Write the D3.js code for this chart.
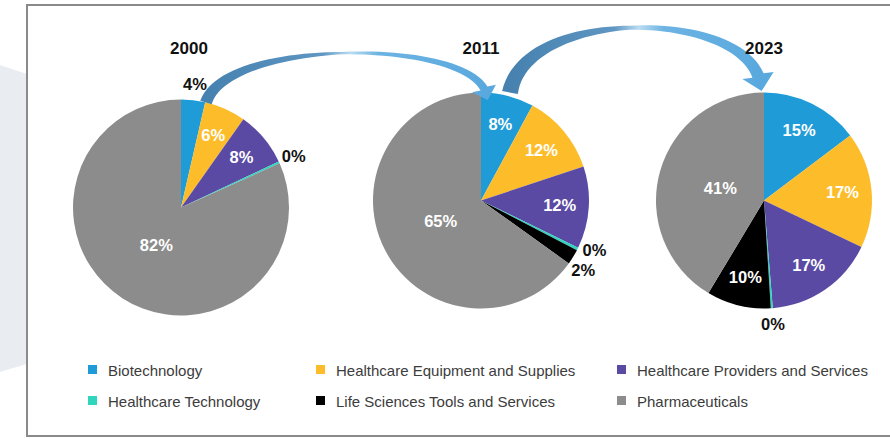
<!DOCTYPE html>
<html>
<head>
<meta charset="utf-8">
<script src="https://cdn.jsdelivr.net/npm/d3@7"></script>
<style>
body { margin: 0; background: #fff; }
svg { display: block; font-family: "Liberation Sans", Arial, sans-serif; }
</style>
</head>
<body>
<svg></svg>
<script>
// chart data
var years = ['2000', '2011', '2023'];
var categories = ['Biotechnology', 'Healthcare Equipment and Supplies', 'Healthcare Providers and Services',
    'Healthcare Technology', 'Life Sciences Tools and Services', 'Pharmaceuticals'];
var colors = ['#1f9cd8', '#fdbd2a', '#5a4aa4', '#2fd6bd', '#000000', '#8c8c8c'];
var share2000 = [3.6, 6.2, 8.2, 0.3, 0, 81.7];
var share2011 = [7.9, 12.0, 12.3, 0.4, 2.3, 65.1];
var share2023 = [14.7, 17.4, 16.6, 0.3, 9.6, 41.4];
var shares = [share2000, share2011, share2023];

var width = 890;
var height = 439;
var radius = 108;

var svg = d3.select('svg')
    .attr('width', width)
    .attr('height', height);

var color = d3.scaleOrdinal().domain(categories).range(colors);
var cx = d3.scaleOrdinal().domain(years).range([181, 481, 764]);
var cy = d3.scaleOrdinal().domain(years).range([207.5, 200.5, 200.5]);
var titleShift = d3.scaleOrdinal().domain(years).range([8, 0, 0]);

// backdrop + frame
svg.append('path')
    .attr('d', 'M0,65L30,75L30,363L0,372Z')
    .attr('fill', '#e9edf2');
svg.append('rect')
    .attr('x', 27).attr('y', 5)
    .attr('width', 880).attr('height', 431)
    .attr('fill', '#fff')
    .attr('stroke', '#8a8a8a')
    .attr('stroke-width', 2);

var pie = d3.pie().sort(null).value(d => d.value);
var arc = d3.arc().innerRadius(0).outerRadius(radius);

var groups = svg.selectAll('g.pie')
    .data(years)
    .enter().append('g')
    .attr('class', 'pie')
    .attr('transform', d => `translate(${cx(d)},${cy(d)})`);

groups.selectAll('path')
    .data((y, i) => pie(categories.map((c, j) => ({ cat: c, value: shares[i][j] }))))
    .enter().append('path')
    .attr('d', arc)
    .attr('fill', d => color(d.data.cat));

// arrows between years
var defs = svg.append('defs');
function bez(p, t) {
    var u = 1 - t;
    return [0, 1].map(k => u * u * u * p[0][k] + 3 * u * u * t * p[1][k] + 3 * u * t * t * p[2][k] + t * t * t * p[3][k]);
}
function bezDer(p, t) {
    var u = 1 - t;
    return [0, 1].map(k => 3 * u * u * (p[1][k] - p[0][k]) + 6 * u * t * (p[2][k] - p[1][k]) + 3 * t * t * (p[3][k] - p[2][k]));
}
function arrow(id, p, widths, headW, headH) {
    var grad = defs.append('linearGradient')
        .attr('id', id)
        .attr('gradientUnits', 'userSpaceOnUse')
        .attr('x1', p[0][0]).attr('x2', p[3][0])
        .attr('y1', 0).attr('y2', 0);
    [[0, '#4681af'], [0.42, '#5f96c2'], [0.52, '#b9dcf2'], [0.62, '#6cb3e3'], [1, '#5aa9de']].forEach(s => {
        grad.append('stop').attr('offset', s[0]).attr('stop-color', s[1]);
    });
    var w = d3.scaleLinear().domain([0, 0.5, 1]).range(widths);
    var left = [], right = [];
    d3.range(0, 1.0001, 0.02).forEach(t => {
        var pt = bez(p, t), d = bezDer(p, t), len = Math.hypot(d[0], d[1]);
        var nx = -d[1] / len, ny = d[0] / len, h = w(t) / 2;
        left.push([pt[0] + nx * h, pt[1] + ny * h]);
        right.push([pt[0] - nx * h, pt[1] - ny * h]);
    });
    var d = bezDer(p, 1), len = Math.hypot(d[0], d[1]);
    var ux = d[0] / len * 0.6, uy = d[1] / len * 0.6 + 0.4;
    var ul = Math.hypot(ux, uy);
    ux /= ul; uy /= ul;
    var nx = -uy, ny = ux, e = p[3];
    var head = [[e[0] + nx * headW / 2, e[1] + ny * headW / 2], [e[0] + ux * headH, e[1] + uy * headH],
        [e[0] - nx * headW / 2, e[1] - ny * headW / 2]];
    var pts = left.concat(head, right.reverse());
    svg.append('path')
        .attr('d', d3.line()(pts) + 'Z')
        .attr('fill', `url(#${id})`);
}
var top0 = cy('2000') - radius, top1 = cy('2011') - radius, top2 = cy('2023') - radius;
arrow('arrowA', [[cx('2000') + 25, top0 + 3], [cx('2000') + 45, 40], [cx('2011') - 26, 38], [cx('2011') + 3, top1 - 4]],
    [12, 2.5, 8], 25, 12);
arrow('arrowB', [[cx('2011') + 29, top1], [cx('2011') + 44, 9], [cx('2023') - 32, 9], [cx('2023') - 6, top2 - 17]],
    [16, 4, 12], 32, 16);

// slice labels
var outR = radius + 16;
groups.each(function (y, i) {
    var slices = pie(categories.map((c, j) => ({ cat: c, value: shares[i][j] }))).filter(d => d.data.value > 0);
    slices.forEach(d => {
        var a = (d.startAngle + d.endAngle) / 2;
        var r = d.data.value < 5 ? outR : (d.data.value > 40 ? radius * 0.42 : radius * 0.73);
        d.lx = Math.sin(a) * r;
        d.ly = -Math.cos(a) * r;
    });
    // spread outside labels that sit too close
    var outside = slices.filter(d => d.data.value < 5).sort((a, b) => a.ly - b.ly);
    for (var k = 1; k < outside.length; k++) {
        var gap = outside[k].ly - outside[k - 1].ly;
        if (gap < 20) {
            var shift = (20 - gap) / 2;
            outside[k - 1].ly -= shift;
            outside[k].ly += shift;
            [outside[k - 1], outside[k]].forEach(o => {
                var sx = o.lx < 0 ? -1 : 1;
                o.lx = sx * Math.sqrt(Math.max(0, outR * outR - o.ly * o.ly));
            });
        }
    }
    d3.select(this).selectAll('text.lbl')
        .data(slices)
        .enter().append('text')
        .attr('class', 'lbl')
        .attr('x', d => d.lx)
        .attr('y', d => d.ly)
        .attr('text-anchor', 'middle')
        .attr('dy', '0.35em')
        .attr('font-size', 16.5)
        .attr('font-weight', 'bold')
        .attr('fill', d => d.data.value < 5 ? '#111' : '#fff')
        .text(d => Math.round(d.data.value) + '%');
});

svg.selectAll('text.title')
    .data(years)
    .enter().append('text')
    .attr('class', 'title')
    .attr('x', d => cx(d) + titleShift(d))
    .attr('y', 54)
    .attr('text-anchor', 'middle')
    .attr('font-size', 17)
    .attr('font-weight', 'bold')
    .attr('fill', '#111')
    .text(d => d);

// legend
var legendX = [88, 316, 617];
var legendY = [370, 401];
var legend = svg.selectAll('g.legend')
    .data(categories)
    .enter().append('g')
    .attr('class', 'legend')
    .attr('transform', (d, i) => `translate(${legendX[i % 3]},${legendY[Math.floor(i / 3)]})`);
legend.append('rect')
    .attr('x', 0).attr('y', -5)
    .attr('width', 9).attr('height', 9)
    .attr('fill', d => color(d));
legend.append('text')
    .attr('x', 20)
    .attr('y', 5.5)
    .attr('font-size', 15)
    .attr('fill', '#3c3c3c')
    .text(d => d);
</script>
</body>
</html>
